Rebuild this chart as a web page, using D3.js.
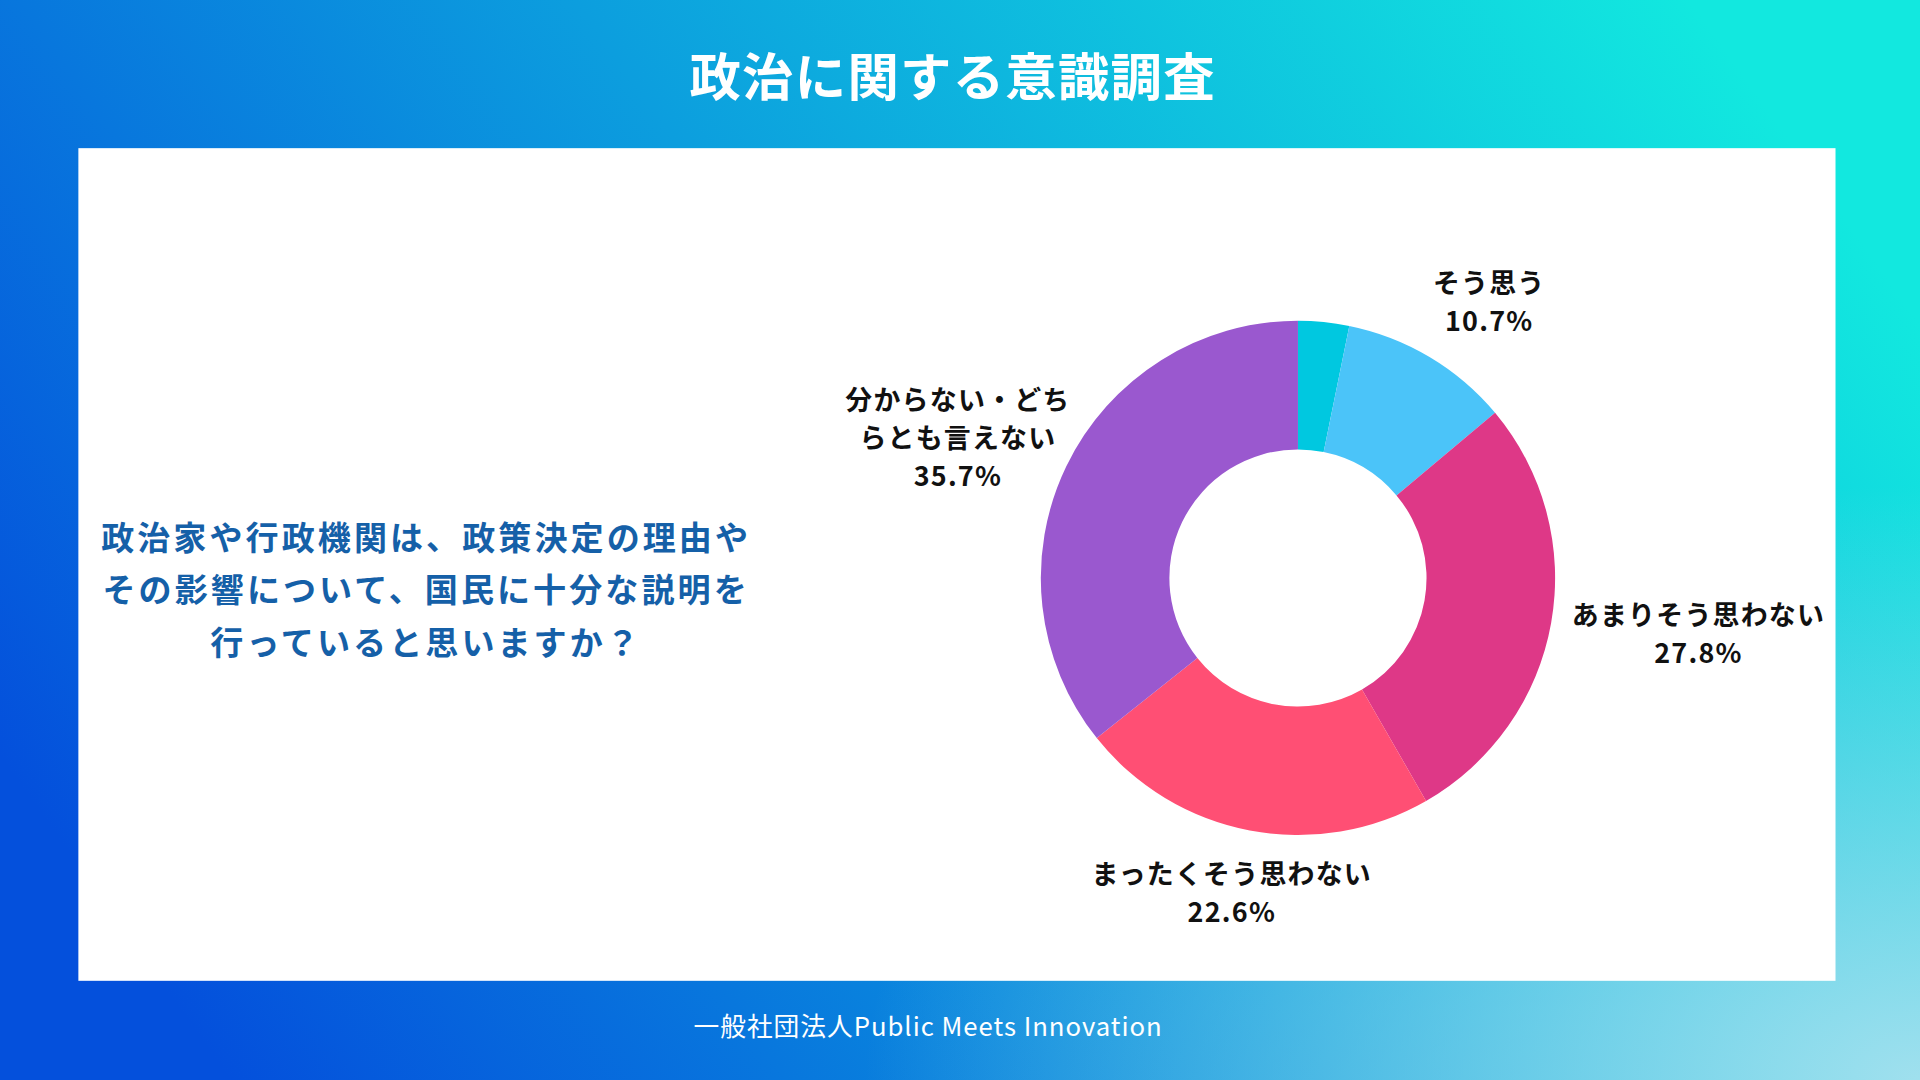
<!DOCTYPE html>
<html><head><meta charset="utf-8">
<script src="https://cdn.jsdelivr.net/npm/d3@7"></script>
<style>html,body{margin:0;padding:0;overflow:hidden}svg{display:block}</style>
</head><body>
<svg id="chart" width="1920" height="1080" viewBox="0 0 1568 882"></svg>
<script>
(function() {
  'use strict';

  var categories = ['とてもそう思う', 'そう思う', 'あまりそう思わない', 'まったくそう思わない', '分からない・どちらとも言えない'];
  var labelLines = [[], ['そう思う'], ['あまりそう思わない'], ['まったくそう思わない'], ['分からない・どち', 'らとも言えない']];
  var values = [3.2, 10.7, 27.8, 22.6, 35.7];
  var colors = ['#00c8e0', '#4bc4f9', '#de3887', '#ff4f74', '#9a58cf'];

  var font = '"Noto Sans CJK JP", "Noto Sans", sans-serif';
  var svg = d3.select('#chart');
  var defs = svg.append('defs');

  var g1 = defs.append('linearGradient').attr('id', 'bg')
    .attr('x1', '0%').attr('y1', '70%').attr('x2', '100%').attr('y2', '30%');
  g1.append('stop').attr('offset', '0%').attr('stop-color', '#0450dc');
  g1.append('stop').attr('offset', '50%').attr('stop-color', '#0c9ede');
  g1.append('stop').attr('offset', '100%').attr('stop-color', '#12e8df');
  var g2 = defs.append('radialGradient').attr('id', 'glow')
    .attr('cx', '100%').attr('cy', '100%').attr('r', '55%');
  g2.append('stop').attr('offset', '0%').attr('stop-color', '#a0e0ee').attr('stop-opacity', 1);
  g2.append('stop').attr('offset', '100%').attr('stop-color', '#a0e0ee').attr('stop-opacity', 0);

  svg.append('rect').attr('width', 1568).attr('height', 882).attr('fill', 'url(#bg)');
  svg.append('rect').attr('width', 1568).attr('height', 882).attr('fill', 'url(#glow)');
  svg.append('rect').attr('x', 64).attr('y', 121).attr('width', 1435).attr('height', 680).attr('fill', '#fff');

  svg.append('text').attr('x', 778).attr('y', 78).attr('text-anchor', 'middle')
    .attr('font-family', font).attr('font-weight', 700).attr('font-size', 42)
    .attr('letter-spacing', 1).attr('fill', '#fff').text('政治に関する意識調査');

  svg.append('text').attr('x', 758).attr('y', 846).attr('text-anchor', 'middle')
    .attr('font-family', font).attr('font-size', 21).attr('letter-spacing', 0.8)
    .attr('fill', '#fff').text('一般社団法人Public Meets Innovation');

  var question = ['政治家や行政機関は、政策決定の理由や', 'その影響について、国民に十分な説明を', '行っていると思いますか？'];
  svg.append('g').selectAll('text').data(question).join('text')
    .attr('x', 348).attr('y', function(d, i) { return 449 + i * 43; })
    .attr('text-anchor', 'middle').attr('font-family', font).attr('font-weight', 700)
    .attr('font-size', 27).attr('letter-spacing', 2.5).attr('fill', '#1560a8')
    .text(function(d) { return d; });

  var cx = 1060, cy = 472, outerR = 210, innerR = 105;
  var pie = d3.pie().sort(null).value(function(d) { return d; });
  var arc = d3.arc().innerRadius(innerR).outerRadius(outerR);
  var arcs = pie(values);

  var chartG = svg.append('g').attr('transform', 'translate(' + cx + ',' + cy + ')');
  chartG.selectAll('path').data(arcs).join('path')
    .attr('d', arc).attr('fill', function(d, i) { return colors[i]; });

  var labelR = 262;
  arcs.forEach(function(d, i) {
    if (!labelLines[i].length) return;
    var a = (d.startAngle + d.endAngle) / 2;
    var lines = labelLines[i].concat([d3.format('.1f')(values[i]) + '%']);
    var maxLen = d3.max(labelLines[i], function(s) { return s.length; });
    var w = maxLen * 23;
    var x = labelR * Math.sin(a) + Math.sin(a) * w * 0.3 + 8;
    var y = -labelR * Math.cos(a);
    var t = chartG.append('text').attr('text-anchor', 'middle')
      .attr('font-family', font).attr('font-weight', 700).attr('font-size', 22)
      .attr('letter-spacing', 1).attr('fill', '#111');
    var top = y - (lines.length - 1) * 31 / 2 + 8;
    lines.forEach(function(s, j) {
      t.append('tspan').attr('x', x).attr('y', top + j * 31).text(s);
    });
  });
})();
</script>
</body></html>
